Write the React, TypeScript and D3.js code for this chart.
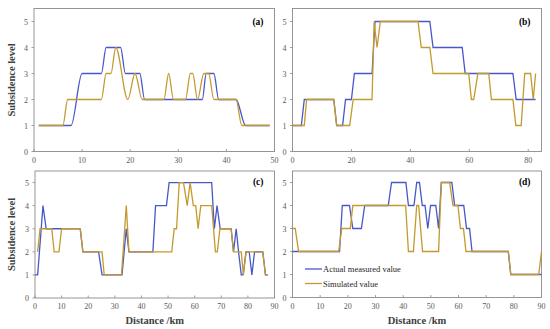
import React, { useEffect, useRef } from 'react';
import * as d3 from 'd3';

type Pt = [number, number];

// panel (a)
const actualA: Pt[] = [[1,1],[7.7,1],[10,3],[14,3],[15,4],[18,4],[19,3],[22,3],[23,2],[35,2],[35.8,3],[37.4,3],[38.4,2],[42,2],[44,1],[49,1]];
const simA: Pt[] = [[1,1],[6,1],[7,2],[14,2],[15,3],[16,3],[17,4],[19.5,2],[21,3],[22.5,2],[27,2],[28,3],[29,2],[31.5,2],[32.5,3],[33,3],[34,2],[35.3,3],[36.3,3],[37.4,2],[42,2],[43.2,1],[49,1]];

// panel (b)
const actualB: Pt[] = [[0,1],[3,1],[4,2],[14,2],[15,1],[17,1],[18,2],[20,2],[21,3],[27,3],[28,5],[46.6,5],[47.7,4],[57.6,4],[58.6,3],[74.8,3],[75.9,2],[82.5,2]];
const simB: Pt[] = [[0,1],[4,1],[4.8,2],[14,2],[15,1],[19.4,1],[20.6,2],[27,2],[27.7,5],[28.7,4],[29.8,5],[42.6,5],[43.7,4],[46.6,4],[47.7,3],[59.8,3],[60.7,2],[61.5,2],[62.9,3],[66.6,3],[67.5,2],[74.8,2],[75.8,1],[77.6,1],[78.8,3],[80.8,3],[81.7,2],[82.5,3]];

// panel (c)
const actualC: Pt[] = [[0,1],[1,1],[3,4],[4.2,3],[17,3],[18,2],[23.9,2],[25.2,1],[32.7,1],[34.3,3],[35.3,2],[44.3,2],[45.3,4],[49.4,4],[50.4,5],[66.4,5],[67.4,3],[68.4,4],[69.6,3],[73.7,3],[74.6,2],[75.6,3],[76.5,2],[77.5,1],[78.2,1],[79.3,2],[80.5,2],[81.5,1],[82.5,2],[85.6,2],[86.6,1],[87.5,1]];
const simC: Pt[] = [[1,2],[1.9,3],[6.3,3],[7.2,2],[9,2],[10,3],[17,3],[18,2],[25.2,2],[26,1],[32.5,1],[34.3,4],[35.3,2],[51.4,2],[52.3,3],[53.2,3],[54.2,5],[55.8,5],[57.2,4],[58.3,5],[59.5,4],[60.4,4],[61.3,3],[62.3,4],[66.4,4],[67.8,2],[68.5,2],[69.5,3],[73.7,3],[74.6,2],[77.5,2],[78.3,1],[79.3,2],[85.6,2],[86.6,1],[87.5,1]];

// panel (d)
const actualD: Pt[] = [[0,2],[17,2],[18,4],[20.6,4],[21.8,3],[24.9,3],[26.1,4],[34.6,4],[35.8,5],[41,5],[41.9,4],[43.9,4],[44.9,5],[45.9,5],[46.9,4],[47.9,4],[48.9,3],[49.9,4],[51.8,4],[52.8,3],[53.8,5],[57.6,5],[58.6,4],[61.9,4],[62.9,3],[64,3],[64.9,2],[78,2],[78.9,1],[90,1]];
const simD: Pt[] = [[0,3],[1,3],[2.2,2],[16.7,2],[17.8,3],[20.9,3],[21.8,4],[40.9,4],[41.9,2],[43.7,2],[44.9,4],[45.6,4],[47,2],[52.8,2],[53.8,5],[56.8,5],[58,4],[59.8,4],[60.7,3],[61.8,3],[62.7,2],[78,2],[78.9,1],[89,1],[90,2]];

const yTicks = [0, 1, 2, 3, 4, 5];
const panelLabels = ['(a)', '(b)', '(c)', '(d)'];
const seriesNames = ['Actual measured value', 'Simulated value'];

const BLUE = '#4758c8';
const GOLD = '#c49a2e';
const FONT = '"Liberation Serif", "Times New Roman", serif';

const panels = [
  { label: panelLabels[0], x0: 34, x1: 274.5, y0: 8.5, y1: 151.5, xMax: 50, xTicks: [0,10,20,30,40,50], actual: actualA, sim: simA, smooth: true },
  { label: panelLabels[1], x0: 292.5, x1: 541.5, y0: 8.5, y1: 151.5, xMax: 84.5, xTicks: [0,20,40,60,80], actual: actualB, sim: simB, smooth: false },
  { label: panelLabels[2], x0: 35, x1: 274.5, y0: 171, y1: 298, xMax: 90, xTicks: [0,10,20,30,40,50,60,70,80,90], actual: actualC, sim: simC, smooth: false },
  { label: panelLabels[3], x0: 292.5, x1: 541.5, y0: 171, y1: 297.5, xMax: 90, xTicks: [0,10,20,30,40,50,60,70,80,90], actual: actualD, sim: simD, smooth: false },
];

function App() {
  const svgRef = useRef<SVGSVGElement>(null);

  useEffect(() => {
    const svg = d3.select(svgRef.current);
    svg.selectAll('*').remove();

    panels.forEach((p, i) => {
      const x = d3.scaleLinear().domain([0, p.xMax]).range([p.x0, p.x1]);
      const y = d3.scaleLinear().domain([0, 5.5]).range([p.y1, p.y0]);
      const g = svg.append('g');

      // frame
      g.append('rect')
        .attr('x', p.x0).attr('y', p.y0)
        .attr('width', p.x1 - p.x0).attr('height', p.y1 - p.y0)
        .attr('fill', 'none').attr('stroke', '#8a8a8a').attr('stroke-width', 0.9);

      // x ticks
      p.xTicks.forEach(t => {
        g.append('line')
          .attr('x1', x(t)).attr('x2', x(t))
          .attr('y1', p.y1).attr('y2', p.y1 - 2.5)
          .attr('stroke', '#8a8a8a').attr('stroke-width', 0.8);
        g.append('text')
          .attr('x', x(t)).attr('y', p.y1 + 11)
          .attr('text-anchor', 'middle')
          .attr('font-family', FONT).attr('font-size', 8)
          .attr('fill', '#595959')
          .text(t);
      });

      // y ticks
      yTicks.forEach(t => {
        g.append('line')
          .attr('x1', p.x0).attr('x2', p.x0 - 2.5)
          .attr('y1', y(t)).attr('y2', y(t))
          .attr('stroke', '#8a8a8a').attr('stroke-width', 0.8);
        g.append('text')
          .attr('x', p.x0 - 6).attr('y', y(t) + 3)
          .attr('text-anchor', 'end')
          .attr('font-family', FONT).attr('font-size', 8)
          .attr('fill', '#595959')
          .text(t);
      });

      // (a) is drawn with smoothed lines, the others straight
      const line = d3.line<Pt>()
        .x(d => x(d[0]))
        .y(d => y(d[1]))
        .curve(p.smooth ? d3.curveMonotoneX : d3.curveLinear);

      g.append('path').datum(p.actual)
        .attr('d', line).attr('fill', 'none')
        .attr('stroke', BLUE).attr('stroke-width', 1.3);
      g.append('path').datum(p.sim)
        .attr('d', line).attr('fill', 'none')
        .attr('stroke', GOLD).attr('stroke-width', 1.3);

      // panel label
      g.append('text')
        .attr('x', p.x1 - 11).attr('y', i < 2 ? p.y0 + 16 : p.y0 + 14)
        .attr('text-anchor', 'end')
        .attr('font-family', FONT).attr('font-size', 9.5)
        .attr('font-weight', 'bold').attr('fill', '#000')
        .text(p.label);

      // axis titles
      if (i % 2 === 0) {
        g.append('text')
          .attr('transform', `translate(15,${(p.y0 + p.y1) / 2}) rotate(-90)`)
          .attr('text-anchor', 'middle')
          .attr('font-family', FONT).attr('font-size', 10.5)
          .attr('font-weight', 'bold').attr('fill', '#404040')
          .text('Subsidence level');
      }
      if (i >= 2) {
        g.append('text')
          .attr('x', (p.x0 + p.x1) / 2).attr('y', 324)
          .attr('text-anchor', 'middle')
          .attr('font-family', FONT).attr('font-size', 10.5)
          .attr('font-weight', 'bold').attr('fill', '#404040')
          .text('Distance /km');
      }

      // legend in (d)
      if (i === 3) {
        [BLUE, GOLD].forEach((c, k) => {
          const ly = 269 + k * 14.5;
          g.append('line')
            .attr('x1', 305).attr('x2', 322)
            .attr('y1', ly).attr('y2', ly)
            .attr('stroke', c).attr('stroke-width', 1.3);
          g.append('text')
            .attr('x', 323).attr('y', ly + 3)
            .attr('font-family', FONT).attr('font-size', 8.5)
            .attr('fill', '#262626')
            .text(seriesNames[k]);
        });
      }
    });
  }, []);

  return (
    <svg ref={svgRef} width={550} height={329}
      style={{ position: 'absolute', left: 0, top: 0, background: '#fff' }} />
  );
}

export default App;
